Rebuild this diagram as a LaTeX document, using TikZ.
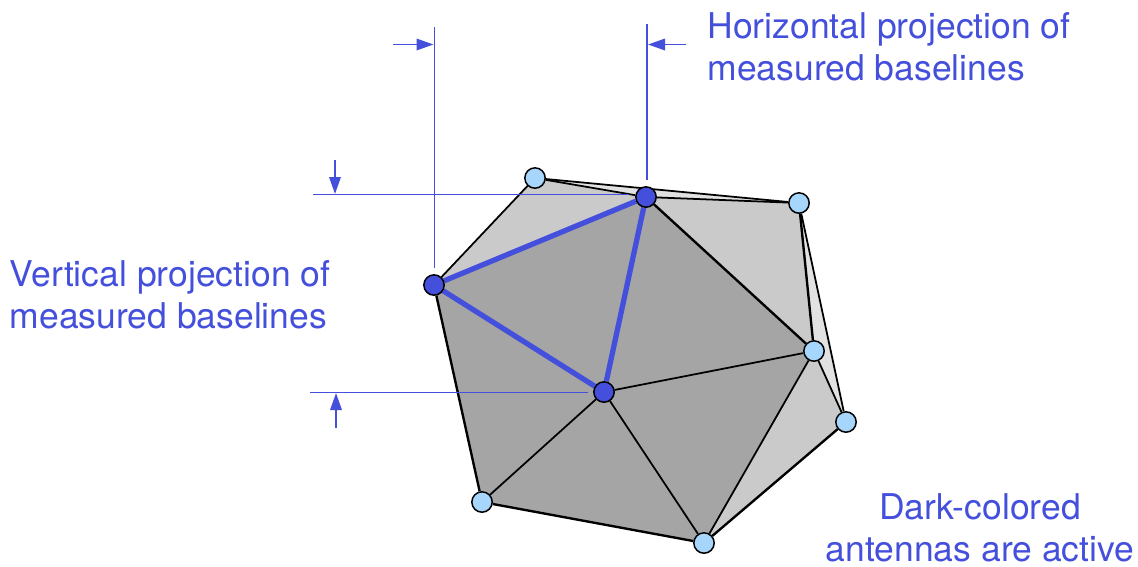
\documentclass[tikz,border=0pt]{standalone}
\usepackage{fontspec}
\setmainfont{TeX Gyre Heros}
\usepackage{xcolor}
\definecolor{antblue}{RGB}{68,80,220}
\definecolor{antlight}{RGB}{167,214,252}
\definecolor{hullgray}{RGB}{202,202,202}
\definecolor{activegray}{RGB}{165,165,165}
\definecolor{slivergray}{RGB}{226,226,226}
\usetikzlibrary{arrows.meta,backgrounds}
\tikzset{
  idle/.style    ={circle,draw=black,fill=antlight,line width=0.85pt,inner sep=0pt,minimum size=11.6pt},
  active/.style  ={circle,draw=black,fill=antblue,line width=0.85pt,inner sep=0pt,minimum size=11.6pt},
  mesh/.style    ={draw=black,line width=1pt},
  rim/.style     ={draw=black,line width=1.35pt},
  baseline/.style={draw=antblue,line width=3pt},
  guide/.style   ={draw=antblue,line width=0.95pt},
  pointer/.style ={-{Triangle[length=3.4mm,width=2.3mm]},draw=antblue,line width=1pt,fill=antblue},
  caption/.style ={text=antblue,font=\fontsize{20.2pt}{23.8pt}\selectfont,inner sep=0pt},
}

\begin{document}
\begin{tikzpicture}[x=0.02cm,y=-0.02cm]
  \useasboundingbox (0,0) rectangle (1138,566);
  % antennas
  \node[idle]   (nw)  at (535,178) {};
  \node[active] (top) at (646,197) {};
  \node[idle]   (ne)  at (799,203) {};
  \node[active] (lft) at (434,285) {};
  \node[active] (mid) at (604,392) {};
  \node[idle]   (rgt) at (814,351) {};
  \node[idle]   (far) at (846,422) {};
  \node[idle]   (sw)  at (482,502) {};
  \node[idle]   (bot) at (704,543) {};
  % faces and mesh
  \begin{scope}[on background layer]
    \fill[hullgray] (lft.center) -- (nw.center) -- (ne.center) -- (rgt.center) -- (far.center) -- (bot.center) -- cycle;
    \fill[slivergray] (ne.center) -- (far.center) -- (rgt.center) -- cycle;
    \fill[slivergray] (nw.center) -- (ne.center) -- (top.center) -- cycle;
    \fill[activegray] (lft.center) -- (top.center) -- (rgt.center) -- (bot.center) -- (sw.center) -- cycle;
    \draw[mesh] (nw) -- (lft);
    \draw[mesh] (nw) -- (top);
    \draw[mesh] (nw) -- (ne);
    \draw[mesh] (top) -- (ne);
    \draw[rim] (top) -- (rgt);
    \draw[rim] (ne) -- (rgt);
    \draw[mesh] (ne) -- (far);
    \draw[mesh] (rgt) -- (far);
    \draw[mesh] (rgt) -- (mid);
    \draw[mesh] (rgt) -- (bot);
    \draw[rim] (far) -- (bot);
    \draw[rim] (lft) -- (sw);
    \draw[rim] (sw) -- (bot);
    \draw[mesh] (sw) -- (mid);
    \draw[mesh] (bot) -- (mid);
    \draw[baseline] (lft) -- (top);
    \draw[baseline] (top) -- (mid);
    \draw[baseline] (mid) -- (lft);
  \end{scope}
  % projection guides
  \coordinate (lfttip) at (434.5,27);
  \coordinate (lftend) at (434.5,268);
  \coordinate (toptip) at (647,24);
  \coordinate (topend) at (647,180);
  \coordinate (hitip) at (313,194.5);
  \coordinate (hiend) at (629,194.5);
  \coordinate (lotip) at (310,392.5);
  \coordinate (loend) at (588,392.5);
  \draw[guide] (lfttip) -- (lftend);
  \draw[guide] (toptip) -- (topend);
  \draw[guide] (hitip) -- (hiend);
  \draw[guide] (lotip) -- (loend);
  \coordinate (a1) at (393,44.5);
  \coordinate (a2) at (433.5,44.5);
  \coordinate (b1) at (686,44.5);
  \coordinate (b2) at (648,44.5);
  \coordinate (c1) at (335,160);
  \coordinate (c2) at (335,194);
  \coordinate (d1) at (336,428);
  \coordinate (d2) at (336,393);
  \draw[pointer] (a1) -- (a2);
  \draw[pointer] (b1) -- (b2);
  \draw[pointer] (c1) -- (c2);
  \draw[pointer] (d1) -- (d2);
  % labels
  \node[caption,align=left] (hlabel) at (889,47) {Horizontal projection of\\measured baselines};
  \node[caption,align=left] (vlabel) at (170,295) {Vertical projection of\\measured baselines};
  \node[caption,align=center] (dlabel) at (980,528) {Dark-colored\\antennas are active};
\end{tikzpicture}
\end{document}
